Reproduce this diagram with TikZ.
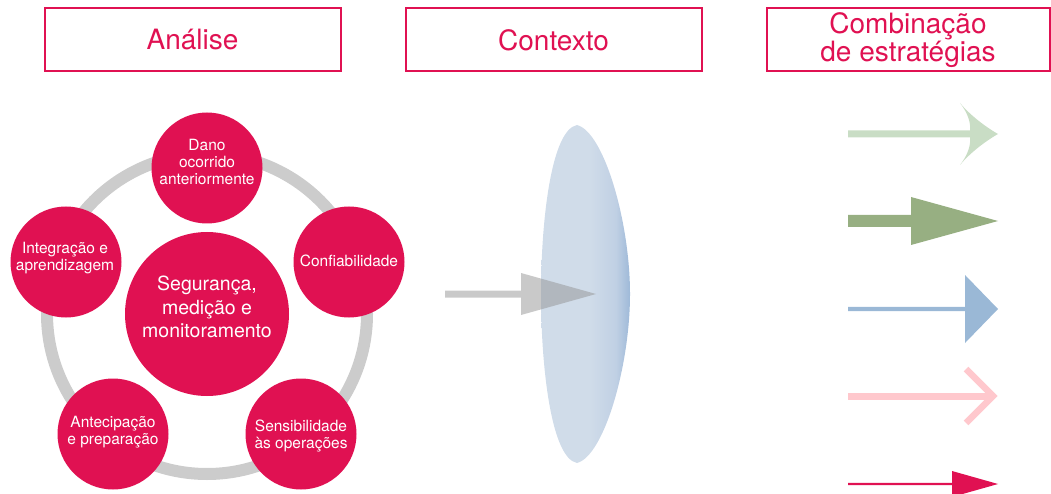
\documentclass[tikz,border=0pt]{standalone}
\usepackage{fontspec}
\setmainfont{TeX Gyre Heros}
\definecolor{crim}{RGB}{224,17,82}
\definecolor{ringgray}{RGB}{204,204,204}
\definecolor{lensA}{RGB}{208,220,233}
\definecolor{lensB}{RGB}{192,208,228}
\definecolor{lensC}{RGB}{158,185,216}
\definecolor{lgreen}{RGB}{201,221,197}
\definecolor{dgreen}{RGB}{151,175,130}
\definecolor{lblue}{RGB}{154,184,214}
\definecolor{lpink}{RGB}{255,200,205}
\pgfdeclarehorizontalshading{lensshade}{100bp}{color(0bp)=(lensA); color(25bp)=(lensA); color(52bp)=(lensA); color(67bp)=(lensB); color(75bp)=(lensC); color(100bp)=(lensC)}
\tikzset{
  titlebox/.style={draw=crim, line width=2pt, minimum height=63pt, inner sep=0pt, text=crim, font=\fontsize{28}{25}\selectfont, align=center},
  ring/.style={draw=ringgray, line width=12pt},
  smallc/.style={circle, fill=crim, minimum size=111pt, inner sep=0pt},
  bigc/.style={circle, fill=crim, minimum size=164pt, inner sep=0pt},
  ctext/.style={text=white, align=center, inner sep=0pt, font=\fontsize{15.5}{17}\selectfont},
  btext/.style={text=white, align=center, inner sep=0pt, font=\fontsize{19.5}{23.7}\selectfont},
}
\begin{document}
\begin{tikzpicture}[x=1pt, y=-1pt]
\useasboundingbox (0,0) rectangle (1051,494);
\clip (0,0) rectangle (1051,494);
% titles
\node[titlebox, minimum width=296pt] (t1) at (192.5,40) {Análise};
\node[titlebox, minimum width=296pt] (t2) at (553.5,40) {Contexto};
\node[titlebox, minimum width=283pt] (t3) at (908,40) {Combinação\\de estratégias};
% ring
\coordinate (rc) at (207,314);
\draw[ring] (rc) circle[radius=160pt];
% circles
\node[bigc] (seg) at (rc) {};
\node[smallc] (dano) at (207,168) {};
\node[smallc] (conf) at (349,262) {};
\node[smallc] (integ) at (66,262) {};
\node[smallc] (antec) at (113,434) {};
\node[smallc] (sens) at (301,434) {};
\node[btext] (segt) at (207,307) {Segurança,\\medição e\\monitoramento};
\node[ctext] (danot) at (207,162) {Dano\\ocorrido\\anteriormente};
\node[ctext] (conft) at (349,261) {Confiabilidade};
\node[ctext] (integt) at (65,258) {Integração e\\aprendizagem};
\node[ctext] (antect) at (113,432) {Antecipação\\e preparação};
\node[ctext] (senst) at (301,436) {Sensibilidade\\às operações};
% lens
\shade[shading=lensshade] (577,125) .. controls (604,132) and (630,222) .. (630,294)
  .. controls (630,366) and (604,456) .. (577,463)
  .. controls (551,458) and (541,366) .. (541,294)
  .. controls (541,222) and (551,130) .. (577,125) -- cycle;
% gray arrow
\fill[black!42, fill opacity=0.5] (445,290.5) -- (521,290.5) -- (521,273) -- (596,294) -- (521,315) -- (521,297.5) -- (445,297.5) -- cycle;
% strategy arrows
\fill[lgreen] (998,134) .. controls (984,126) and (969,114) .. (960,103)
  .. controls (967,112) and (971,122) .. (970,130.5) -- (848,130.5) -- (848,137.5) -- (970,137.5)
  .. controls (971,146) and (967,156) .. (960,165)
  .. controls (969,154) and (984,142) .. (998,134) -- cycle;
\fill[dgreen] (848,215) -- (911,215) -- (911,197) -- (998,221) -- (911,245) -- (911,227) -- (848,227) -- cycle;
\fill[lblue] (848,306.8) -- (965,306.8) -- (965,275) -- (998,309) -- (965,343) -- (965,311.2) -- (848,311.2) -- cycle;
\fill[lpink] (848,392.5) rectangle (992,399.5);
\draw[lpink, line width=6.5pt, miter limit=10] (966,369) -- (993,396) -- (966,423);
\fill[crim] (848,482.8) -- (952,482.8) -- (952,471) -- (998,484) -- (952,497) -- (952,485.2) -- (848,485.2) -- cycle;
\end{tikzpicture}
\end{document}
